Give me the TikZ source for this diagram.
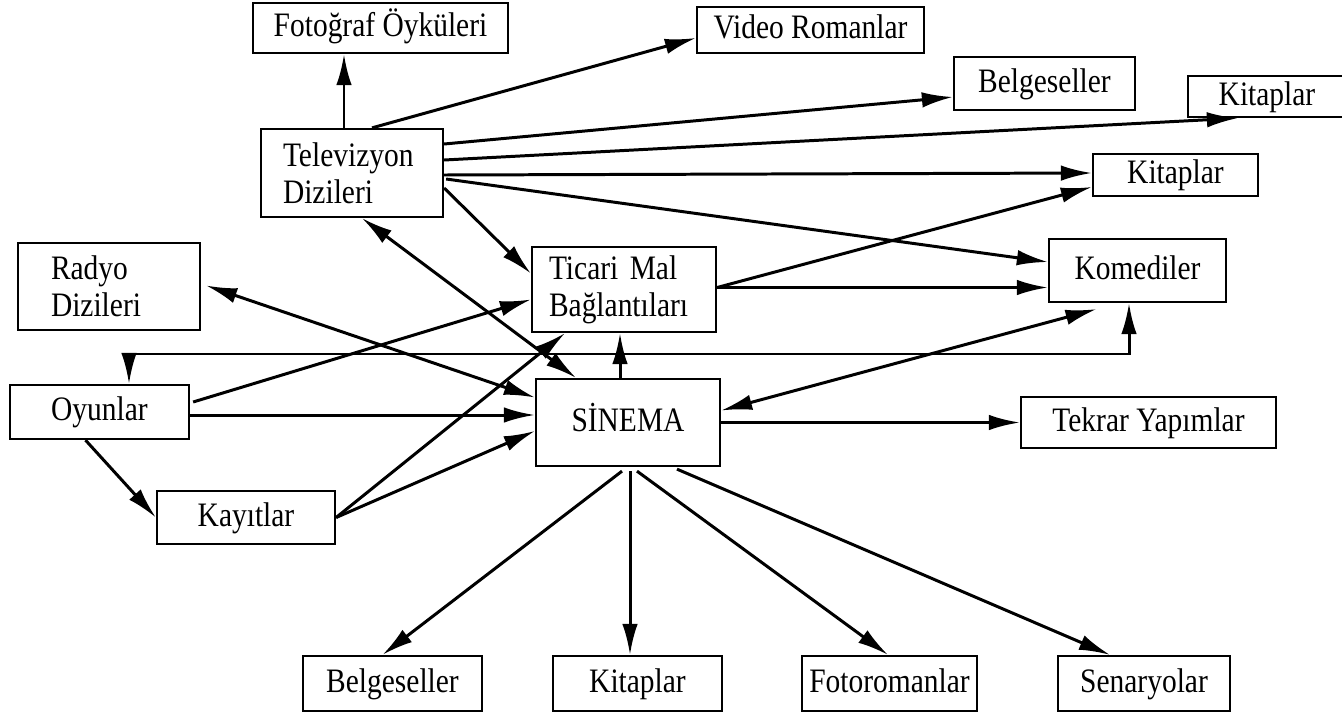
\documentclass[tikz,border=0pt]{standalone}
\usepackage{fontspec}
\setmainfont{Liberation Serif}[FakeStretch=0.86]
\usetikzlibrary{arrows.meta}
\usetikzlibrary{calc}

\begin{document}
\begin{tikzpicture}[x=0.02cm,y=-0.02cm,
  kutu/.style={draw, line width=1.3pt, inner sep=0pt, font=\fontsize{19.5}{21}\selectfont},
  tek/.style={kutu, text height=13pt, text depth=3pt},
  ok/.style={-{Latex[length=0.62cm,width=0.31cm]}, line width=1.7pt},
  cift/.style={{Latex[length=0.62cm,width=0.31cm]}-{Latex[length=0.62cm,width=0.31cm]}, line width=1.7pt}]

  \useasboundingbox (0,0) rectangle (1342,717);

  % ust sira
  \node[tek, minimum width=5.10cm, minimum height=1.00cm] (foto) at (380.5,28) {Fotoğraf Öyküleri};
  \node[tek, minimum width=4.54cm, minimum height=0.92cm] (video) at (810.5,30) {Video Romanlar};
  \node[tek, minimum width=3.62cm, minimum height=1.06cm] (belgA) at (1044.5,83.5) {Belgeseller};
  \node[tek, minimum width=3.16cm, minimum height=0.82cm] (kitA) at (1267,96.5) {Kitaplar};
  \node[tek, minimum width=3.30cm, minimum height=0.84cm] (kitB) at (1175.5,175) {Kitaplar};

  % televizyon
  \node[kutu, minimum width=3.64cm, minimum height=1.76cm, text width=2.76cm, inner xsep=0.44cm, align=left] (tv) at (352,173) {Televizyon\\Dizileri};

  % orta
  \node[kutu, minimum width=3.64cm, minimum height=1.74cm, text width=2.32cm, inner xsep=0.66cm, align=left] (radyo) at (109,286.5) {Radyo\\Dizileri};
  \node[kutu, minimum width=3.68cm, minimum height=1.70cm, text width=3.00cm, inner xsep=0.34cm, align=left] (ticari) at (624,289.5) {Ticari Mal\\Bağlantıları};
  \node[tek, minimum width=3.54cm, minimum height=1.26cm] (komedi) at (1137.5,270.5) {Komediler};
  \node[tek, minimum width=3.58cm, minimum height=1.08cm] (oyun) at (99.5,412) {Oyunlar};
  \node[tek, minimum width=3.68cm, minimum height=1.74cm] (sinema) at (628,422.5) {SİNEMA};
  \node[tek, minimum width=5.10cm, minimum height=1.02cm] (tekrar) at (1148.5,422.5) {Tekrar Yapımlar};
  \node[tek, minimum width=3.56cm, minimum height=1.06cm] (kayit) at (246,517.5) {Kayıtlar};

  % alt sira
  \node[tek, minimum width=3.58cm, minimum height=1.10cm] (belgB) at (392.5,683.5) {Belgeseller};
  \node[tek, minimum width=3.38cm, minimum height=1.10cm] (kitC) at (637.5,683.5) {Kitaplar};
  \node[tek, minimum width=3.50cm, minimum height=1.10cm] (fotor) at (889.5,683.5) {Fotoromanlar};
  \node[tek, minimum width=3.44cm, minimum height=1.10cm] (senar) at (1144,683.5) {Senaryolar};

  % televizyondan
  \draw[ok] ($(tv.north)+(-8,0)$) -- ($(foto.south)+(-36.5,0)$);
  \draw[ok] ($(tv.north)+(20,0)$) -- ($(video.west)+(0,8)$);
  \draw[ok] ($(tv.east)+(0,-29)$) -- ($(belgA.west)+(0,13.5)$);
  \draw[ok] ($(tv.east)+(0,-13)$) -- ($(kitA.south west)+(51,0)$);
  \draw[ok] ($(tv.east)+(0,2)$) -- ($(kitB.west)+(0,-2)$);
  \draw[ok] ($(tv.east)+(2,6)$) -- ($(komedi.west)+(0,-8.5)$);
  \draw[ok] ($(tv.east)+(0,15)$) -- ($(ticari.west)+(0,-16)$);
  \draw[cift] ($(sinema.north)+(-52,0)$) -- ($(tv.south)+(10,0)$);

  % soldan
  \draw[cift] ($(radyo.east)+(5,-1)$) -- ($(sinema.west)+(0,-25)$);
  \draw[ok] ($(oyun.east)+(3,-10)$) -- ($(ticari.west)+(0,10)$);
  \draw[ok] ($(oyun.east)+(0,3)$) -- ($(sinema.west)+(0,-7.5)$);
  \draw[ok] ($(oyun.south)+(-14,0)$) -- (kayit.west);
  \draw[ok] (kayit.east) -- ($(ticari.south)+(-59,0)$);
  \draw[ok] (kayit.east) -- ($(sinema.west)+(0,8.5)$);

  % ticari ve sinema
  \draw[ok] ($(sinema.north)+(-8,0)$) -- ($(ticari.south)+(-4,0)$);
  \draw[ok] ($(ticari.east)+(0,-2)$) -- ($(kitB.west)+(0,12)$);
  \draw[ok] ($(ticari.east)+(0,-2)$) -- ($(komedi.west)+(0,17)$);
  \draw[cift] ($(sinema.east)+(0,-12)$) -- ($(komedi.south)+(-41,6)$);
  \draw[ok] (sinema.east) -- (tekrar.west);

  % asagi
  \draw[ok] ($(sinema.south)+(-6,4)$) -- ($(belgB.north)+(-10,0)$);
  \draw[ok] ($(sinema.south)+(2,4)$) -- ($(kitC.north)+(-7.5,0)$);
  \draw[ok] ($(sinema.south)+(9,4)$) -- ($(fotor.north)+(-1.5,0)$);
  \draw[ok] ($(sinema.south)+(49,2)$) -- ($(senar.north)+(-34,0)$);

  % oyunlar - komediler
  \coordinate (ray) at (0,354);
  \coordinate (o1) at ($(oyun.north)+(29.5,0)$);
  \coordinate (k1) at ($(komedi.south)+(-8.5,0)$);
  \draw[cift] (o1) -- (o1 |- ray) -- (k1 |- ray) -- (k1);
\end{tikzpicture}
\end{document}
